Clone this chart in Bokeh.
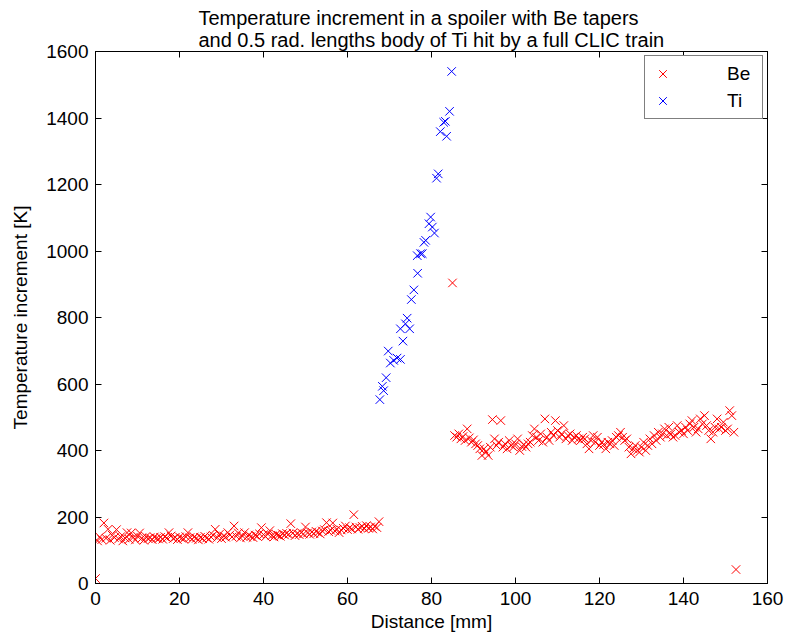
from bokeh.plotting import figure
from bokeh.models import LinearAxis, FixedTicker, Range1d, Legend, LegendItem
from bokeh.embed import file_html
from bokeh.resources import INLINE

# Be tapers: low-temperature section (entrance taper)
be_low_x = [0.0, 0.5, 1.0, 1.5, 2.0, 2.5, 3.0, 3.5, 4.0, 4.5, 5.0,
            5.5, 6.0, 6.5, 7.0, 7.5, 8.0, 8.5, 9.0, 9.5, 10.0,
            10.5, 11.0, 11.5, 12.0, 12.5, 13.0, 13.5, 14.0, 14.5, 15.0,
            15.5, 16.0, 16.5, 17.0, 17.5, 18.0, 18.5, 19.0, 19.5, 20.0,
            20.5, 21.0, 21.5, 22.0, 22.5, 23.0, 23.5, 24.0, 24.5, 25.0,
            25.5, 26.0, 26.5, 27.0, 27.5, 28.0, 28.5, 29.0, 29.5, 30.0,
            30.5, 31.0, 31.5, 32.0, 32.5, 33.0, 33.5, 34.0, 34.5, 35.0,
            35.5, 36.0, 36.5, 37.0, 37.5, 38.0, 38.5, 39.0, 39.5, 40.0,
            40.5, 41.0, 41.5, 42.0, 42.5, 43.0, 43.5, 44.0, 44.5, 45.0,
            45.5, 46.0, 46.5, 47.0, 47.5, 48.0, 48.5, 49.0, 49.5, 50.0,
            50.5, 51.0, 51.5, 52.0, 52.5, 53.0, 53.5, 54.0, 54.5, 55.0,
            55.5, 56.0, 56.5, 57.0, 57.5, 58.0, 58.5, 59.0, 59.5, 60.0,
            60.5, 61.0, 61.5, 62.0, 62.5, 63.0, 63.5, 64.0, 64.5, 65.0,
            65.5, 66.0, 66.5, 67.0, 67.5]
be_low_y = [15, 128, 140, 132, 182, 136, 163, 130, 145, 138, 162,
            134, 141, 128, 137, 153, 133, 152, 139, 131, 142,
            152, 136, 130, 141, 135, 138, 132, 140, 136, 134,
            139, 133, 141, 137, 153, 143, 135, 139, 132, 140,
            136, 134, 141, 153, 138, 133, 140, 136, 131, 139,
            135, 142, 137, 133, 140, 145, 163, 138, 148, 135,
            143, 139, 153, 146, 140, 173, 142, 152, 137, 143,
            153, 139, 146, 141, 138, 145, 142, 150, 168, 147,
            141, 149, 159, 144, 140, 148, 145, 142, 150, 146,
            151, 148, 180, 152, 144, 150, 147, 153, 149, 170,
            152, 148, 155, 150, 157, 153, 149, 158, 162, 183,
            156, 160, 182, 158, 163, 153, 161, 166, 173, 162,
            168, 164, 207, 170, 163, 168, 172, 165, 174, 166,
            170, 164, 172, 168, 186]

# Be tapers: high-temperature section (exit taper)
be_high_x = [85.0, 85.5, 86.0, 86.5, 87.0, 87.5, 88.0, 88.5, 89.0, 89.5, 90.0,
             90.5, 91.0, 91.5, 92.0, 92.5, 93.0, 93.5, 94.0, 94.5, 95.0,
             95.5, 96.0, 96.5, 97.0, 97.5, 98.0, 98.5, 99.0, 99.5, 100.0,
             100.5, 101.0, 101.5, 102.0, 102.5, 103.0, 103.5, 104.0, 104.5, 105.0,
             105.5, 106.0, 106.5, 107.0, 107.5, 108.0, 108.5, 109.0, 109.5, 110.0,
             110.5, 111.0, 111.5, 112.0, 112.5, 113.0, 113.5, 114.0, 114.5, 115.0,
             115.5, 116.0, 116.5, 117.0, 117.5, 118.0, 118.5, 119.0, 119.5, 120.0,
             120.5, 121.0, 121.5, 122.0, 122.5, 123.0, 123.5, 124.0, 124.5, 125.0,
             125.5, 126.0, 126.5, 127.0, 127.5, 128.0, 128.5, 129.0, 129.5, 130.0,
             130.5, 131.0, 131.5, 132.0, 132.5, 133.0, 133.5, 134.0, 134.5, 135.0,
             135.5, 136.0, 136.5, 137.0, 137.5, 138.0, 138.5, 139.0, 139.5, 140.0,
             140.5, 141.0, 141.5, 142.0, 142.5, 143.0, 143.5, 144.0, 144.5, 145.0,
             145.5, 146.0, 146.5, 147.0, 147.5, 148.0, 148.5, 149.0, 149.5, 150.0,
             150.5, 151.0, 151.5, 152.0, 152.5]
be_high_y = [904, 445, 440, 450, 435, 442, 430, 465, 438, 425, 432,
             420, 415, 405, 385, 405, 395, 385, 410, 493, 435,
             415, 425, 490, 410, 420, 405, 430, 415, 410, 420,
             435, 400, 412, 418, 410, 420, 425, 445, 465, 440,
             430, 450, 425, 495, 440, 430, 455, 445, 490, 460,
             440, 450, 475, 435, 445, 450, 430, 440, 445, 435,
             430, 440, 435, 420, 405, 430, 445, 425, 440, 415,
             425, 418, 405, 425, 420, 430, 415, 440, 445, 455,
             440, 430, 435, 410, 390, 405, 415, 400, 395, 410,
             425, 400, 415, 435, 420, 445, 430, 455, 440, 450,
             465, 445, 470, 450, 440, 445, 475, 455, 460, 450,
             470, 460, 480, 490, 470, 455, 465, 495, 480, 505,
             475, 460, 435, 455, 470, 495, 465, 470, 485, 460,
             465, 520, 505, 455, 42]

# Ti body
ti_x = [67.7, 68.3, 68.6, 69.2, 69.7, 70.2, 71.0, 71.8, 72.6, 72.6, 73.2, 73.8,
        74.2, 74.8, 75.2, 75.8, 76.6, 76.7, 77.4, 77.8, 78.2, 78.6, 79.4, 79.8,
        80.2, 80.7, 81.2, 81.6, 82.1, 82.9, 83.3, 83.6, 84.3, 84.8]
ti_y = [553, 593, 580, 619, 699, 663, 671, 678, 674, 766, 729, 781,
        798, 766, 854, 883, 986, 933, 992, 992, 1026, 1032, 1082, 1102,
        1072, 1054, 1219, 1232, 1359, 1387, 1390, 1345, 1420, 1540]

x_ticks = [0, 20, 40, 60, 80, 100, 120, 140, 160]
y_ticks = [0, 200, 400, 600, 800, 1000, 1200, 1400, 1600]

FONT = "Liberation Sans"

p = figure(width=788, height=640, output_backend="svg", toolbar_location=None,
           x_range=Range1d(0, 160), y_range=Range1d(0, 1600),
           min_border_left=95, min_border_right=21, min_border_top=51,
           min_border_bottom=57, x_axis_location=None, y_axis_location=None)

p.title.text = ("Temperature increment in a spoiler with Be tapers\n"
                "and 0.5 rad. lengths body of Ti hit by a full CLIC train")
p.title.align = "center"
p.title.text_font = FONT
p.title.text_font_size = "20px"
p.title.text_font_style = "normal"
p.title.text_color = "black"
p.title.standoff = 1

p.xgrid.visible = False
p.ygrid.visible = False
p.outline_line_color = "black"
p.outline_line_width = 1
p.background_fill_color = "white"
p.border_fill_color = "white"


def style_axis(ax, ticks, show_labels):
    ax.ticker = FixedTicker(ticks=ticks)
    ax.minor_tick_line_color = None
    ax.major_tick_in = 6
    ax.major_tick_out = 0
    ax.axis_line_color = "black"
    ax.major_tick_line_color = "black"
    ax.major_label_text_font = FONT
    ax.major_label_text_font_size = "19px" if show_labels else "0px"
    ax.major_label_text_color = "black"
    ax.axis_label_text_font = FONT
    ax.axis_label_text_font_size = "19px"
    ax.axis_label_text_font_style = "normal"
    ax.axis_label_text_color = "black"
    if not show_labels:
        ax.major_label_standoff = 0


xb = LinearAxis(axis_label="Distance [mm]")
style_axis(xb, x_ticks, True)
xb.major_label_standoff = 8
xb.axis_label_standoff = 3
p.add_layout(xb, "below")

yl = LinearAxis(axis_label="Temperature increment [K]")
style_axis(yl, y_ticks, True)
yl.major_label_standoff = 7
yl.axis_label_standoff = 12
p.add_layout(yl, "left")

xt = LinearAxis()
style_axis(xt, x_ticks, False)
p.add_layout(xt, "above")

yr = LinearAxis()
style_axis(yr, y_ticks, False)
p.add_layout(yr, "right")

r_be = p.scatter(be_low_x + be_high_x, be_low_y + be_high_y, marker="x",
                 size=12, line_color="#ff0000", line_width=1)
r_ti = p.scatter(ti_x, ti_y, marker="x", size=12, line_color="#0000ff",
                 line_width=1)

legend = Legend(items=[LegendItem(label="Be", renderers=[r_be]),
                       LegendItem(label="Ti", renderers=[r_ti])],
                location="top_right")
legend.margin = 4
legend.padding = 4
legend.spacing = 0
legend.glyph_width = 27
legend.glyph_height = 27
legend.label_standoff = 51
legend.label_width = 31
legend.label_text_font = FONT
legend.label_text_font_size = "19px"
legend.label_text_color = "black"
legend.border_line_color = "black"
legend.border_line_width = 1
legend.background_fill_color = "white"
legend.background_fill_alpha = 1
p.add_layout(legend, "center")

open("out.html", "w").write(file_html(p, INLINE))
